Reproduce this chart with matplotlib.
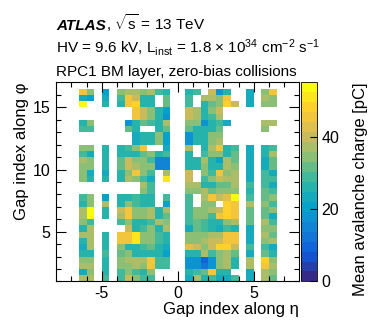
import numpy as np
import matplotlib
matplotlib.use("Agg")
import matplotlib.pyplot as plt
from matplotlib.colors import LinearSegmentedColormap, BoundaryNorm

plt.rcParams['font.family'] = ['Liberation Sans', 'DejaVu Sans']
plt.rcParams['mathtext.fontset'] = 'custom'
plt.rcParams['mathtext.rm'] = 'Liberation Sans'
plt.rcParams['mathtext.it'] = 'Liberation Sans:italic'
plt.rcParams['axes.unicode_minus'] = False

# gap centres along eta (only the columns that have data)
eta_centers = [-6.25, -5.75, -4.75, -3.75, -3.25, -2.75, -2.25, -1.75, -1.25, -0.75,
               0.75, 1.25, 1.75, 2.25, 2.75, 3.25, 3.75, 4.75, 5.75, 6.25]
# gap centres along phi, top row first
phi_centers = np.arange(16.25, 1.0, -0.5)

_ = None
# mean avalanche charge [pC], one row per phi centre (top -> bottom)
charge = [
    [44, 35, 20, 33, 36, 38, 33, 37, 29, 25, 25, 28, _, 39, 19, 25, _, 22, 33, 44],
    [24, 20, 24, 30, 45, 40, 25, 25, _, 31, 29, _, 36, 36, 33, 44, _, 22, 36, 33],
    [53, _, 26, 25, 45, 49, 25, 25, _, 32, 30, _, 26, 32, 34, 48, 40, 23, 33, 33],
    [_, _, _, _, _, 44, 41, 33, 25, 20, 41, 36, 25, 33, 39, _, _, _, _, _],
    [_, _, _, _, _, 44, 39, 33, 25, 19, 41, 36, 25, 29, 38, _, _, _, _, _],
    [25, 33, _, _, 19, 25, 32, 29, 25, 38, 33, 34, 19, 25, 29, 22, _, _, 36, 36],
    [29, 29, _, _, 32, 25, _, _, 25, 32, 32, 26, 25, 25, 32, _, _, _, 34, _],
    [_, _, _, _, _, 24, 25, 25, 34, 20, 19, 25, 25, 33, 33, _, _, _, _, _],
    [_, _, _, _, _, 24, 25, 25, 34, 20, 19, 25, 25, 33, 37, _, _, _, _, _],
    [33, 35, 26, 25, 29, 33, 44, _, _, 24, 38, _, 25, 36, 44, 25, 28, 22, 25, 30],
    [29, 24, 25, 25, 25, 25, 32, 33, 25, 29, 25, _, 29, 33, 33, 25, 32, 24, 25, 36],
    [38, 33, 25, 31, 39, 33, 33, 29, 16, 16, 25, 25, 38, 25, 21, 38, 32, 24, 22, 32],
    [33, 33, 26, 31, 39, 36, 33, 33, 16, 16, 25, 25, 33, 25, 25, 38, 33, 24, 24, 32],
    [33, 24, 24, 25, 33, 44, 33, 29, _, 36, 40, _, 33, 29, 44, 33, 37, 24, 28, 22],
    [33, 25, 25, 25, 38, 33, 29, 22, _, 52, 40, _, 29, 33, 39, 38, 38, 24, 30, 28],
    [_, _, _, _, _, _, 37, 29, _, _, 38, 36, 25, 25, 32, 32, 38, 30, 30, 24],
    [_, _, _, _, _, _, 33, 29, _, _, 33, 33, 38, 32, 33, 34, 33, 25, 32, 28],
    [29, 33, 20, 25, 25, 29, 25, 25, _, 29, 29, _, 38, 44, 40, 42, 53, 28, 32, 33],
    [25, 33, 37, 25, 33, 30, 25, 25, _, 21, 29, _, 33, 33, _, 48, 44, 36, 33, 29],
    [38, 53, 25, 39, 44, 33, 33, 38, 25, 36, 30, 33, 33, 38, 40, 47, 44, 32, 32, 33],
    [38, 53, 25, 36, 44, 33, 33, 38, 25, 32, 30, 33, 33, 29, 44, 47, 44, 32, 32, 24],
    [33, 29, _, 29, 33, 25, 25, 29, 36, 33, 29, 32, 29, 25, 25, 33, 38, 32, 36, 30],
    [25, 38, _, _, 39, 25, 29, 33, 25, 38, 22, 32, 29, 25, 22, 29, 25, 24, 33, 33],
    [37, 38, 25, 44, 45, 51, 33, 33, 29, 25, 33, 33, 33, 38, 36, 45, 44, 24, 37, 32],
    [25, 37, 25, 44, 45, 52, 33, 33, 29, 25, 33, 33, 38, 39, 39, 45, 45, 24, 33, 37],
    [22, 38, 26, 33, 25, 25, 29, 32, 25, 22, 42, 39, 33, 40, 48, 48, 40, 30, 28, 24],
    [25, 25, 28, 32, 35, 25, 25, 25, 25, 21, 25, 25, 38, 29, 33, 38, 32, 24, 32, 26],
    [33, 33, 25, 33, 36, 36, 38, 44, 29, 29, 19, 19, 10, 19, 33, 38, 25, 38, 47, 33],
    [38, 38, 26, 33, 33, 36, 33, 44, 29, 29, 19, 19, 11, 19, 33, 38, 25, 38, 44, 37],
    [24, 33, 25, 29, 33, 29, 25, 33, _, _, 25, 29, 32, 44, 25, 25, _, 24, 38, 33],
    [38, 38, 29, 30, 39, 33, 29, 29, _, _, 24, 37, 25, 28, 22, 24, 28, 22, 36, 32],
]

# ROOT "kBird" palette, 20 contours
stops = [0.0, 0.125, 0.25, 0.375, 0.5, 0.625, 0.75, 0.875, 1.0]
red = [0.2082, 0.0592, 0.0780, 0.0232, 0.1802, 0.5301, 0.8186, 0.9956, 0.9764]
green = [0.1664, 0.3599, 0.5041, 0.6419, 0.7178, 0.7492, 0.7328, 0.7862, 0.9832]
blue = [0.5293, 0.8684, 0.8385, 0.7914, 0.6425, 0.4662, 0.3499, 0.1968, 0.0539]
bird = LinearSegmentedColormap.from_list(
    'bird', list(zip(stops, zip(red, green, blue))), N=20)
zmax = 55.0
norm = BoundaryNorm(np.linspace(0, zmax, 21), bird.N)

# histogram binning: 32 x 32 bins of width 0.5
x_edges = np.arange(-8, 8.01, 0.5)
y_edges = np.arange(1, 17.01, 0.5)
grid = np.full((len(y_edges) - 1, len(x_edges) - 1), np.nan)
for i, phi in enumerate(phi_centers):
    for j, eta in enumerate(eta_centers):
        v = charge[i][j]
        if v is not None:
            grid[int((phi - 1) / 0.5), int((eta + 8) / 0.5)] = v

fig = plt.figure(figsize=(3.74, 3.31), dpi=100)
ax = fig.add_axes([0.1505, 0.1498, 0.6498, 0.6010])
cax = fig.add_axes([0.8048, 0.1498, 0.0436, 0.6010])

mesh = ax.pcolormesh(x_edges, y_edges, np.ma.masked_invalid(grid),
                     cmap=bird, norm=norm, shading='flat', antialiased=False)
ax.set_xlim(-8, 8)
ax.set_ylim(1, 17)
ax.set_xticks([-5, 0, 5])
ax.set_xticks(np.arange(-7, 8, 1), minor=True)
ax.set_yticks([5, 10, 15])
ax.set_yticks(np.arange(1, 17, 1), minor=True)
ax.tick_params(which='both', direction='in', top=True, right=True, labelsize=11.5)
ax.tick_params(which='major', length=7, width=0.8)
ax.tick_params(which='minor', length=3.5, width=0.8)
ax.tick_params(axis='x', pad=3)
ax.tick_params(axis='y', pad=4)
ax.set_xlabel('Gap index along η', loc='right', fontsize=12, labelpad=1)
ax.set_ylabel('Gap index along φ', loc='top', fontsize=12, labelpad=3)

cb = fig.colorbar(mesh, cax=cax, ticks=[0, 20, 40])
cb.outline.set_linewidth(0.6)
cax.tick_params(direction='in', length=5, width=0.8, labelsize=11.5, pad=3)
cax.minorticks_off()
cb.set_label('Mean avalanche charge [pC]', loc='top', fontsize=12, labelpad=10)

x0 = 0.150
fs = 11
t = fig.text(x0, 0.909, 'ATLAS', fontsize=fs, weight='bold', style='italic',
             va='baseline')
fig.canvas.draw()
bb = t.get_window_extent()
fig.text(bb.x1 / fig.bbox.width, 0.909, r', $\sqrt{\mathrm{s}}$ = 13 TeV',
         fontsize=fs, va='baseline')
fig.text(x0, 0.842,
         r'HV = 9.6 kV, L$_{\mathrm{inst}}$ = 1.8 $\times$ 10$^{34}$ cm$^{-2}$ s$^{-1}$',
         fontsize=fs, va='baseline')
fig.text(x0, 0.770, 'RPC1 BM layer, zero-bias collisions', fontsize=fs,
         va='baseline')

fig.savefig('out.png', dpi=100)
